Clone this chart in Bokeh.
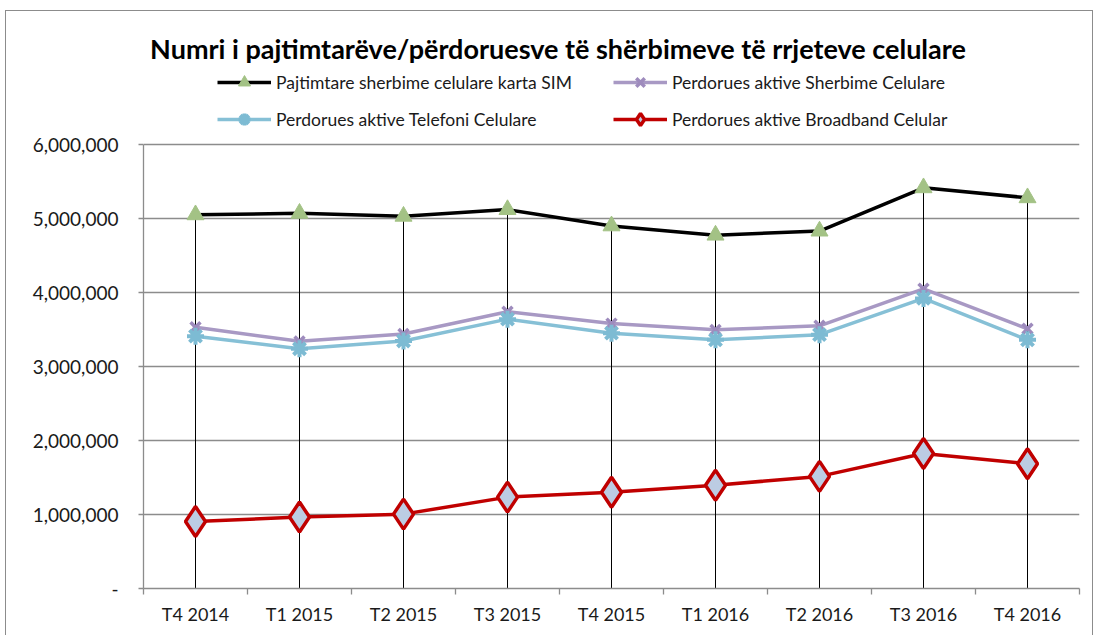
from bokeh.plotting import figure
from bokeh.models import (Range1d, FixedTicker, NumeralTickFormatter,
                          Legend, LegendItem, ColumnDataSource, Label)
from bokeh.embed import file_html
from bokeh.resources import INLINE

categories = ["T4 2014", "T1 2015", "T2 2015", "T3 2015", "T4 2015",
              "T1 2016", "T2 2016", "T3 2016", "T4 2016"]
sim_cards = [5050000, 5070000, 5030000, 5120000, 4900000, 4775000, 4830000, 5415000, 5280000]
active_services = [3530000, 3340000, 3440000, 3740000, 3580000, 3495000, 3550000, 4050000, 3510000]
active_phone = [3410000, 3240000, 3345000, 3640000, 3450000, 3360000, 3430000, 3920000, 3360000]
active_broadband = [905000, 965000, 1005000, 1235000, 1300000, 1395000, 1515000, 1825000, 1685000]

series_names = ["Pajtimtare sherbime celulare karta SIM",
                "Perdorues aktive Sherbime Celulare",
                "Perdorues aktive Telefoni Celulare",
                "Perdorues aktive Broadband Celular"]
title_text = "Numri i pajtimtarëve/përdoruesve të shërbimeve të rrjeteve celulare"
y_ticks = [0, 1000000, 2000000, 3000000, 4000000, 5000000, 6000000]

FONT = "Lato"
GRID = "#8C8C8C"

n = len(categories)
xpos = [i + 0.5 for i in range(n)]  # category centres on a 0..n axis

# layout (pixels): the frame extends above the value area so the title and
# legend can sit inside it; the axis itself is bounded to 0..6,000,000
FRAME_W, FRAME_H = 936, 568
VALUE_H = 444
y_top = y_ticks[-1] * FRAME_H / VALUE_H

src = ColumnDataSource(dict(x=xpos, sim=sim_cards, serv=active_services,
                            phone=active_phone, bb=active_broadband, zero=[0] * n))

p = figure(frame_width=FRAME_W, frame_height=FRAME_H, output_backend="svg", toolbar_location=None,
           x_range=Range1d(0, n), y_range=Range1d(0, y_top),
           min_border_left=137, min_border_right=13, min_border_top=9, min_border_bottom=48)
p.styles = {"border": "1px solid #8C8C8C", "margin-left": "5px", "margin-top": "10px"}
p.outline_line_color = None
p.xgrid.visible = False
p.ygrid.grid_line_color = GRID
p.ygrid.grid_line_width = 1.3
p.ygrid.ticker = FixedTicker(ticks=y_ticks)

# y axis
ya = p.yaxis[0]
ya.ticker = FixedTicker(ticks=y_ticks)
ya.bounds = (y_ticks[0], y_ticks[-1])
ya.formatter = NumeralTickFormatter(format="0,0")
ya.major_label_overrides = {0: "-"}
ya.axis_line_color = GRID
ya.axis_line_width = 1.3
ya.major_tick_line_color = GRID
ya.major_tick_line_width = 1.3
ya.major_tick_out = 5
ya.major_tick_in = 0
ya.minor_tick_line_color = None
ya.major_label_standoff = 20
ya.major_label_text_font = FONT
ya.major_label_text_font_size = "19px"
ya.major_label_text_color = "#1a1a1a"

# x axis: labels at category centres, ticks at category boundaries
xa = p.xaxis[0]
xa.ticker = FixedTicker(ticks=xpos, minor_ticks=list(range(n + 1)))
xa.major_label_overrides = {x: c for x, c in zip(xpos, categories)}
xa.axis_line_color = GRID
xa.axis_line_width = 1.3
xa.major_tick_line_color = None
xa.major_tick_out = 0
xa.major_tick_in = 0
xa.minor_tick_line_color = GRID
xa.minor_tick_line_width = 1.3
xa.minor_tick_out = 6
xa.minor_tick_in = 0
xa.major_label_standoff = 8
xa.major_label_text_font = FONT
xa.major_label_text_font_size = "18px"
xa.major_label_text_color = "#1a1a1a"

# drop lines
p.segment(x0="x", y0="zero", x1="x", y1="sim", source=src, line_color="black", line_width=1)

# series
r1l = p.line("x", "sim", source=src, line_color="black", line_width=3.5)
r1m = p.scatter("x", "sim", source=src, marker="triangle", size=17,
                fill_color="#A3C285", line_color="#A3C285")

r2l = p.line("x", "serv", source=src, line_color="#A899C4", line_width=3.5)
r2m = p.scatter("x", "serv", source=src, marker="x", size=14,
                line_color="#9E8BBD", line_width=3.5)

r3l = p.line("x", "phone", source=src, line_color="#86C0D6", line_width=3.5)
r3m = p.scatter("x", "phone", source=src, marker="asterisk", size=17,
                line_color="#7DBBD3", line_width=4)

r4l = p.line("x", "bb", source=src, line_color="#C00000", line_width=3.5)
r4m = p.scatter("x", "bb", source=src, marker="diamond", size=30,
                fill_color="#BCCCE3", line_color="#C00000", line_width=3.5)

legend = Legend(items=[
    LegendItem(label=series_names[0], renderers=[r1l, r1m]),
    LegendItem(label=series_names[1], renderers=[r2l, r2m]),
    LegendItem(label=series_names[2], renderers=[r3l, r3m]),
    LegendItem(label=series_names[3], renderers=[r4l, r4m]),
], ncols=2, location=(74, VALUE_H + 10), orientation="horizontal")
legend.background_fill_alpha = 0
legend.border_line_color = None
legend.glyph_width = 54
legend.glyph_height = 30
legend.label_height = 30
legend.label_width = 330
legend.label_standoff = 5
legend.spacing = 7
legend.padding = 9
legend.margin = 0
legend.label_text_font = FONT
legend.label_text_font_size = "17.5px"
legend.label_text_color = "#1a1a1a"
p.add_layout(legend, "center")

# chart title, placed inside the (extended) frame
title_px_x, title_px_y = 414.5, 540.5   # pixels from frame left / frame bottom
p.add_layout(Label(x=n * title_px_x / FRAME_W, y=y_top * title_px_y / FRAME_H,
                   text=title_text, text_font=FONT, text_font_size="27px",
                   text_font_style="bold", text_color="black",
                   text_align="center", text_baseline="middle"))

open("out.html", "w").write(file_html(p, INLINE))
